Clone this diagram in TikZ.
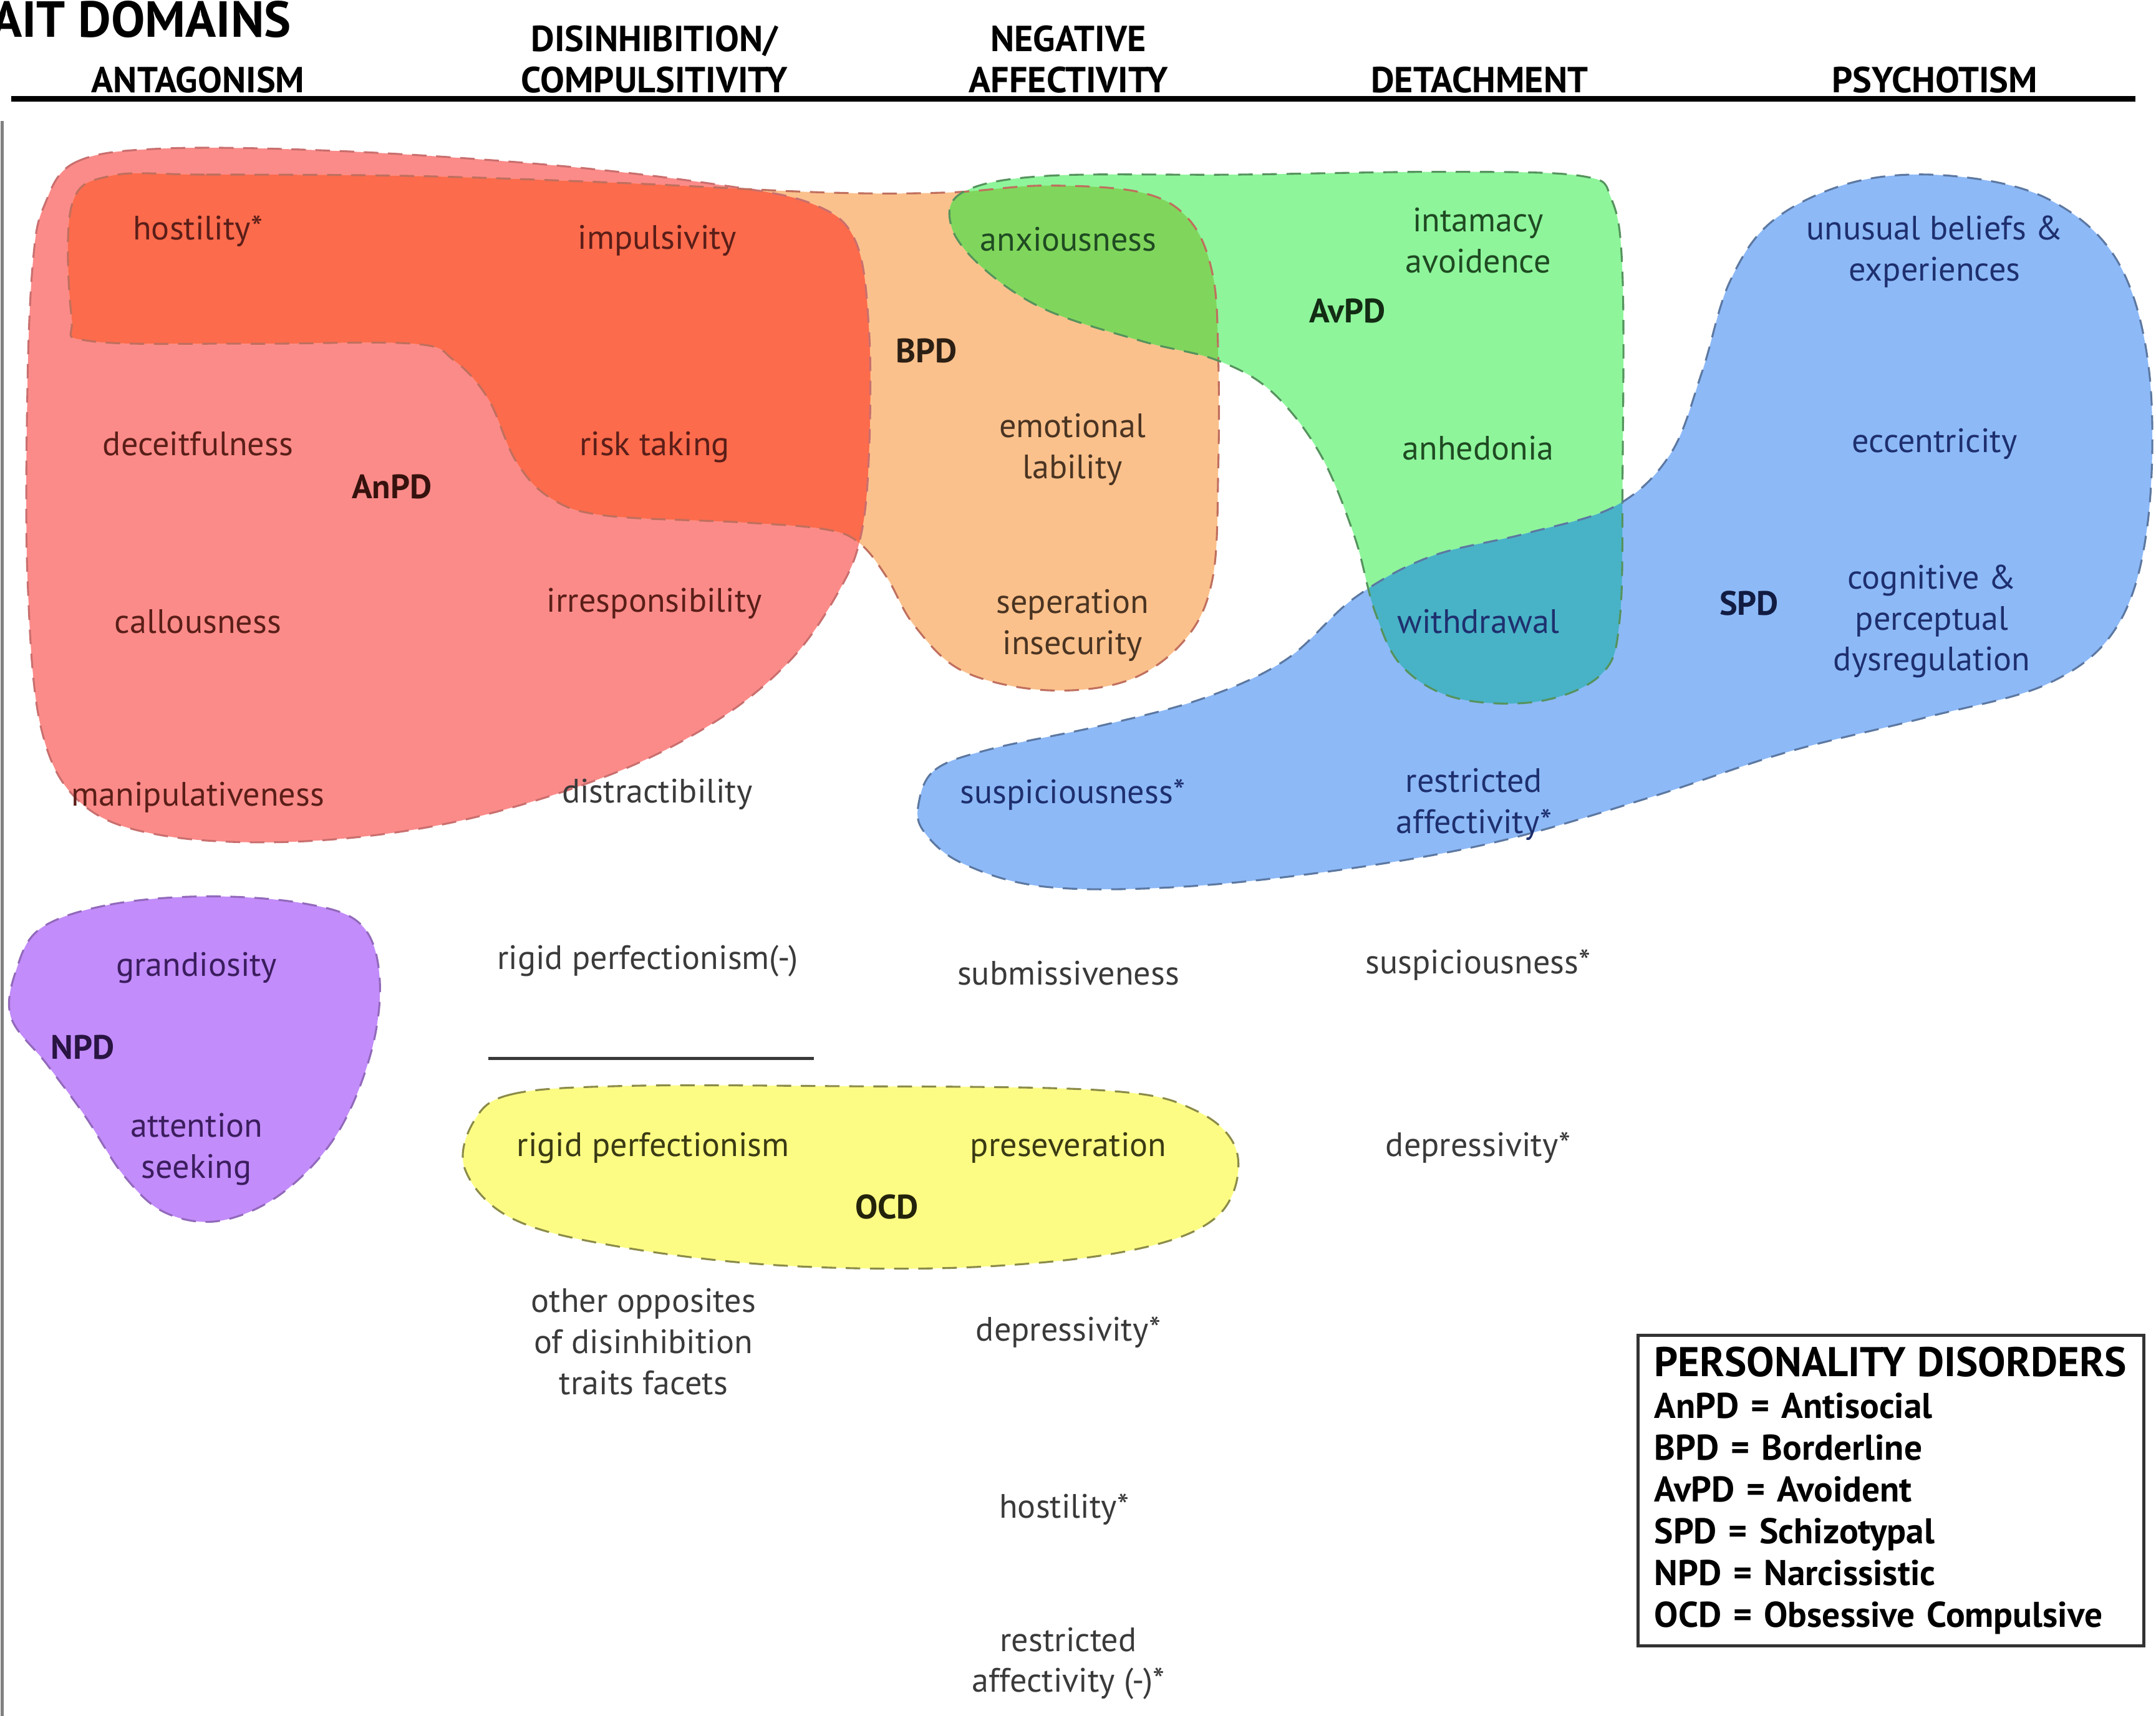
\documentclass[tikz,border=0pt]{standalone}
\usepackage{fontspec}
\setmainfont{PT Sans}
\usetikzlibrary{positioning}

\definecolor{anpdpink}{HTML}{FB8B89}
\definecolor{anbpred}{HTML}{FC6B4C}
\definecolor{bpdorange}{HTML}{FBC18C}
\definecolor{avpdgreen}{HTML}{8EF59B}
\definecolor{bpavgreen}{HTML}{80D65C}
\definecolor{spdblue}{HTML}{8DB9F7}
\definecolor{avspteal}{HTML}{48B3C6}
\definecolor{npdpurple}{HTML}{C28CFA}
\definecolor{ocdyellow}{HTML}{FCFC84}
\definecolor{txtgray}{HTML}{3A3A3A}
\definecolor{redtxt}{HTML}{5A1E18}
\definecolor{brntxt}{HTML}{4A3422}
\definecolor{greentxt}{HTML}{1F4A22}
\definecolor{bluetxt}{HTML}{1E2F6E}
\definecolor{purpletxt}{HTML}{3B1D5E}
\definecolor{ocdtxt}{HTML}{3A3A14}

\tikzset{trait/.style={align=center, inner sep=1pt, text=txtgray, font=\fontsize{14}{17}\selectfont}}
\tikzset{pdlabel/.style={inner sep=1pt, text=black!85, font=\bfseries\fontsize{14}{17}\selectfont}}
\tikzset{dombox/.style={align=center, inner sep=0pt, font=\bfseries\fontsize{15}{17}\selectfont}}
\tikzset{blobline/.style={dash pattern=on 6pt off 4pt, line width=0.8pt}}

\newcommand{\anpdblob}{plot[smooth cycle, tension=0.6] coordinates {(32,150) (55,118) (120,108) (250,110) (400,120) (520,134) (590,148) (622,175) (632,240) (632,330) (626,390) (610,430) (575,480) (520,525) (440,565) (330,598) (220,612) (120,608) (60,585) (30,530) (20,420) (20,280) (24,190)}}
\newcommand{\bpdblob}{plot[smooth cycle, tension=0.6] coordinates {(80,128) (150,127) (300,128) (450,133) (600,140) (690,140) (760,135) (830,140) (865,160) (882,200) (886,260) (886,340) (882,420) (862,465) (820,495) (760,502) (700,488) (665,455) (645,420) (625,395) (600,385) (540,380) (440,375) (400,362) (375,335) (355,290) (330,262) (300,250) (180,250) (65,248) (52,230) (52,150)}}
\newcommand{\avpdblob}{plot[smooth cycle, tension=0.6] coordinates {(700,140) (760,128) (900,127) (1050,125) (1150,128) (1172,145) (1180,200) (1180,350) (1178,450) (1165,490) (1120,510) (1060,508) (1020,485) (1000,445) (985,390) (960,330) (925,285) (885,262) (830,248) (760,225) (715,195) (692,165)}}
\newcommand{\spdblob}{plot[smooth cycle, tension=0.6] coordinates {(668,585) (680,560) (720,545) (800,528) (875,508) (935,480) (985,435) (1040,405) (1110,388) (1175,368) (1215,330) (1238,270) (1258,205) (1290,160) (1350,132) (1420,128) (1490,145) (1540,190) (1563,270) (1562,380) (1540,455) (1490,497) (1400,522) (1300,547) (1200,580) (1090,612) (980,632) (860,645) (760,645) (700,628) (672,605)}}
\newcommand{\npdblob}{plot[smooth cycle, tension=0.6] coordinates {(30,675) (80,658) (150,652) (220,657) (262,672) (276,710) (270,765) (245,825) (205,868) (160,888) (120,882) (90,855) (62,812) (34,774) (8,740) (12,705)}}
\newcommand{\ocdblob}{plot[smooth cycle, tension=0.6] coordinates {(345,815) (372,796) (450,790) (600,790) (800,793) (870,808) (900,840) (885,885) (820,910) (700,922) (560,920) (440,905) (370,885) (338,850)}}

\begin{document}
\begin{tikzpicture}[x=0.02cm, y=-0.02cm]
    \useasboundingbox (0,0) rectangle (1568,1248);
    \clip (0,0) rectangle (1568,1248);

    % the disorder areas
    \fill[anpdpink] \anpdblob;
    \fill[bpdorange] \bpdblob;
    \fill[avpdgreen] \avpdblob;
    \fill[spdblue] \spdblob;
    \fill[npdpurple] \npdblob;
    \fill[ocdyellow] \ocdblob;
    \begin{scope}
        \clip \anpdblob;
        \fill[anbpred] \bpdblob;
    \end{scope}
    \begin{scope}
        \clip \bpdblob;
        \fill[bpavgreen] \avpdblob;
    \end{scope}
    \begin{scope}
        \clip \avpdblob;
        \fill[avspteal] \spdblob;
    \end{scope}

    \draw[blobline, anpdpink!80!black] \anpdblob;
    \draw[blobline, anbpred!70!black!80] \bpdblob;
    \draw[blobline, avpdgreen!60!black] \avpdblob;
    \draw[blobline, spdblue!65!black] \spdblob;
    \draw[blobline, npdpurple!75!black] \npdblob;
    \draw[blobline, ocdyellow!55!black] \ocdblob;

    % header
    \node[dombox, font=\bfseries\fontsize{21}{24}\selectfont, anchor=base east] (trait) at (212,27) {TRAIT DOMAINS};
    \node[dombox] (antag) at (144,58) {ANTAGONISM};
    \node[dombox] (disinh) at (476,43) {DISINHIBITION/\\COMPULSITIVITY};
    \node[dombox] (negaff) at (777,43) {NEGATIVE\\AFFECTIVITY};
    \node[dombox] (detach) at (1076,58) {DETACHMENT};
    \node[dombox] (psych) at (1407,58) {PSYCHOTISM};
    \coordinate (rule_l) at (8,72);
    \coordinate (rule_r) at (1553,72);
    \draw[line width=2.2pt] (rule_l) -- (rule_r);
    \coordinate (side_t) at (1.5,88);
    \coordinate (side_b) at (1.5,1248);
    \draw[gray, line width=1.2pt] (side_t) -- (side_b);

    % antagonism
    \node[trait, text=redtxt] (hostil) at (144,168) {hostility*};
    \node[trait, text=redtxt, on grid, below=3.1cm of hostil] (deceit) {deceitfulness};
    \node[trait, text=redtxt, on grid, below=2.58cm of deceit] (callous) {callousness};
    \node[trait, text=redtxt, on grid, below=2.56cm of callous] (manip) {manipulativeness};
    \node[pdlabel, text=redtxt!60!black] (anpd) at (285,354) {AnPD};
    \node[trait, text=purpletxt] (grand) at (143,704) {grandiosity};
    \node[pdlabel, text=purpletxt!70!black] (npd) at (60,762) {NPD};
    \node[trait, text=purpletxt] (attent) at (143,836) {attention\\seeking};

    % disinhibition
    \node[trait, text=redtxt] (impul) at (478,175) {impulsivity};
    \node[trait, text=redtxt] (risk) at (476,325) {risk taking};
    \node[trait, text=redtxt] (irresp) at (476,439) {irresponsibility};
    \node[trait] (distract) at (478,578) {distractibility};
    \node[trait] (rigidneg) at (471,699) {rigid perfectionism(-)};
    \coordinate (div_l) at (355,770);
    \coordinate (div_r) at (592,770);
    \draw[txtgray, line width=1.2pt] (div_l) -- (div_r);
    \node[trait, text=ocdtxt] (rigid) at (475,835) {rigid perfectionism};
    \node[trait] (opposite) at (468,976) {other opposites\\of disinhibition\\traits facets};

    % negative affectivity
    \node[trait, text=greentxt] (anxious) at (777,174) {anxiousness};
    \node[pdlabel, text=brntxt!60!black] (bpd) at (674,255) {BPD};
    \node[trait, text=brntxt] (emolab) at (780,327) {emotional\\lability};
    \node[trait, text=brntxt] (seper) at (780,455) {seperation\\insecurity};
    \node[trait, text=bluetxt] (suspic) at (780,578) {suspiciousness*};
    \node[trait] (submis) at (777,708) {submissiveness};
    \node[trait, text=ocdtxt] (presev) at (777,835) {preseveration};
    \node[pdlabel, text=ocdtxt!60!black] (ocd) at (645,878) {OCD};
    \node[trait] (depres) at (777,969) {depressivity*};
    \node[trait] (hostilb) at (774,1098) {hostility*};
    \node[trait] (restrb) at (777,1210) {restricted\\affectivity (-)*};

    % detachment
    \node[trait, text=greentxt] (intam) at (1075,175) {intamacy\\avoidence};
    \node[pdlabel, text=greentxt!60!black] (avpd) at (980,226) {AvPD};
    \node[trait, text=greentxt] (anhed) at (1075,326) {anhedonia};
    \node[trait, text=bluetxt] (withdr) at (1075,452) {withdrawal};
    \node[trait, text=bluetxt] (restr) at (1072,585) {restricted\\affectivity*};
    \node[trait] (suspicb) at (1075,702) {suspiciousness*};
    \node[trait] (depresb) at (1075,835) {depressivity*};

    % psychotism
    \node[trait, text=bluetxt] (unusual) at (1407,183) {unusual beliefs \&\\experiences};
    \node[trait, text=bluetxt] (eccent) at (1407,323) {eccentricity};
    \node[pdlabel, text=bluetxt!60!black] (spd) at (1272,439) {SPD};
    \node[trait, text=bluetxt] (cogni) at (1405,452) {cognitive \&\\perceptual\\dysregulation};

    % legend
    \node[draw=black!80, line width=1.3pt, anchor=north west, align=left, inner xsep=0.24cm,
          text width=6.88cm, minimum height=4.52cm, font=\bfseries\fontsize{14.8}{17.3}\selectfont]
          (legend) at (1190,970)
          {{\fontsize{17.2}{19}\selectfont PERSONALITY DISORDERS}\\
           AnPD = Antisocial\\
           BPD = Borderline\\
           AvPD = Avoident\\
           SPD = Schizotypal\\
           NPD = Narcissistic\\
           OCD = Obsessive Compulsive};
\end{tikzpicture}
\end{document}
